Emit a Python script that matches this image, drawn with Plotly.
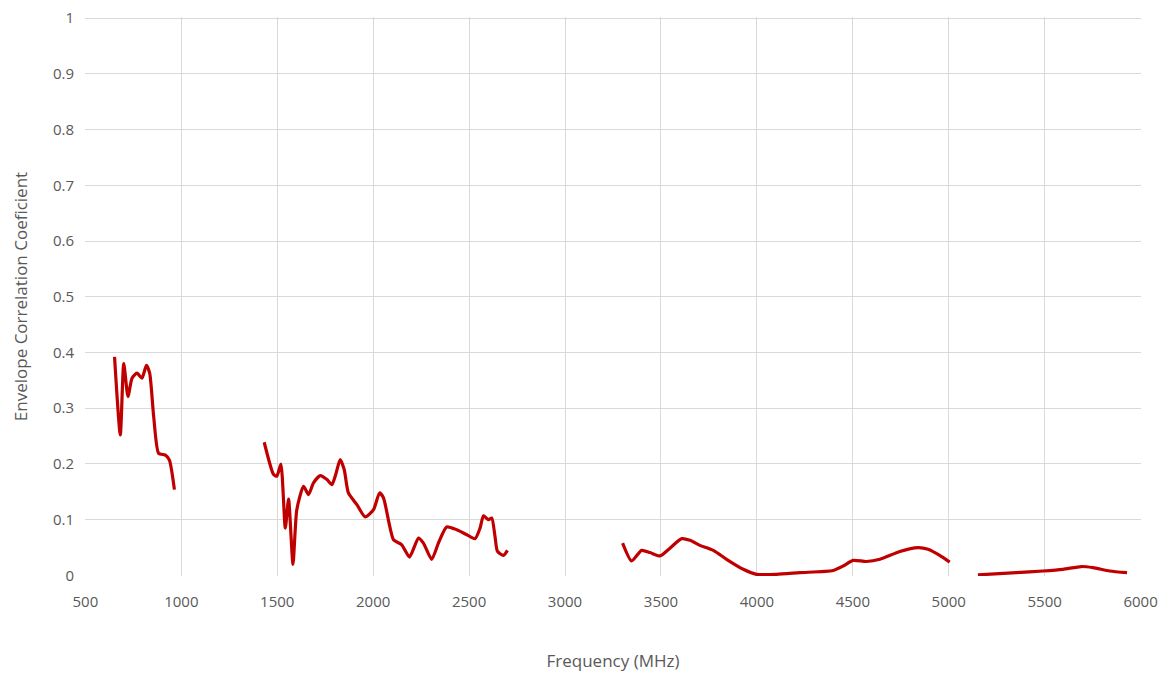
import plotly.graph_objects as go

# Segment 1
f1 = [652, 682, 700, 722, 743, 769, 795, 818, 835, 856, 882, 917, 938, 964]
e1 = [0.392, 0.252, 0.380, 0.321, 0.354, 0.363, 0.354, 0.377, 0.363, 0.285, 0.219, 0.216, 0.207, 0.154]
# Segment 2
f2 = [1432, 1481, 1498, 1519, 1542, 1559, 1582, 1602, 1637, 1663, 1689, 1724, 1759, 1785, 1807, 1828,
      1849, 1871, 1915, 1958, 2002, 2033, 2054, 2106, 2149, 2189, 2236, 2262, 2305, 2340, 2383, 2436,
      2488, 2531, 2557, 2575, 2601, 2618, 2635, 2648, 2679, 2700]
e2 = [0.239, 0.181, 0.178, 0.200, 0.085, 0.137, 0.020, 0.118, 0.160, 0.145, 0.166, 0.179, 0.172, 0.163, 0.184, 0.208,
      0.190, 0.148, 0.127, 0.105, 0.118, 0.148, 0.139, 0.064, 0.055, 0.033, 0.067, 0.058, 0.029, 0.058, 0.087, 0.082,
      0.073, 0.066, 0.085, 0.107, 0.100, 0.103, 0.070, 0.043, 0.036, 0.045]
# Segment 3
f3 = [3300, 3347, 3399, 3443, 3495, 3547, 3608, 3651, 3703, 3773, 3842, 3929, 3998, 4102, 4224, 4397,
      4450, 4501, 4571, 4641, 4745, 4840, 4892, 4953, 5005]
e3 = [0.058, 0.026, 0.045, 0.041, 0.035, 0.049, 0.066, 0.063, 0.054, 0.045, 0.029, 0.011, 0.002, 0.002, 0.005, 0.009,
      0.017, 0.027, 0.025, 0.029, 0.043, 0.050, 0.047, 0.036, 0.024]
# Segment 4
f4 = [5152, 5352, 5491, 5595, 5691, 5752, 5839, 5929]
e4 = [0.001, 0.005, 0.008, 0.011, 0.016, 0.014, 0.008, 0.005]

x_ticks = [500, 1000, 1500, 2000, 2500, 3000, 3500, 4000, 4500, 5000, 5500, 6000]
y_ticks = [0, 0.1, 0.2, 0.3, 0.4, 0.5, 0.6, 0.7, 0.8, 0.9, 1]
y_labels = ["0", "0.1", "0.2", "0.3", "0.4", "0.5", "0.6", "0.7", "0.8", "0.9", "1"]

fig = go.Figure()
for fx, ey in [(f1, e1), (f2, e2), (f3, e3), (f4, e4)]:
    fig.add_trace(go.Scatter(x=fx, y=ey, mode="lines",
                             line=dict(color="#C00000", width=3.2, shape="spline", smoothing=0.6),
                             showlegend=False, hoverinfo="skip"))

font_family = "Open Sans, Noto Sans, sans-serif"
fig.update_layout(
    width=1171, height=678,
    margin=dict(l=77, r=38, t=9, b=110),
    paper_bgcolor="white", plot_bgcolor="white",
    font=dict(family=font_family, color="#595959", size=15),
    xaxis=dict(range=[498, 6002], tickvals=x_ticks, showgrid=True, gridcolor="#d9d9d9",
               gridwidth=1, zeroline=False, showline=False, ticks="", automargin=False,
               ticklabelstandoff=15, ticklabeloverflow="allow",
               title=dict(text="Frequency (MHz)", font=dict(size=17, color="#595959"), standoff=45),
               tickfont=dict(size=15)),
    yaxis=dict(range=[-0.001, 1.002], tickvals=y_ticks, ticktext=y_labels, showgrid=True, gridcolor="#d9d9d9",
               gridwidth=1, zeroline=False, showline=False, ticks="", automargin=False,
               ticklabelstandoff=10, ticklabeloverflow="allow",
               title=dict(text="Envelope Correlation Coeficient", font=dict(size=17, color="#595959"), standoff=20),
               tickfont=dict(size=15)),
)
fig.write_html("out.html")
